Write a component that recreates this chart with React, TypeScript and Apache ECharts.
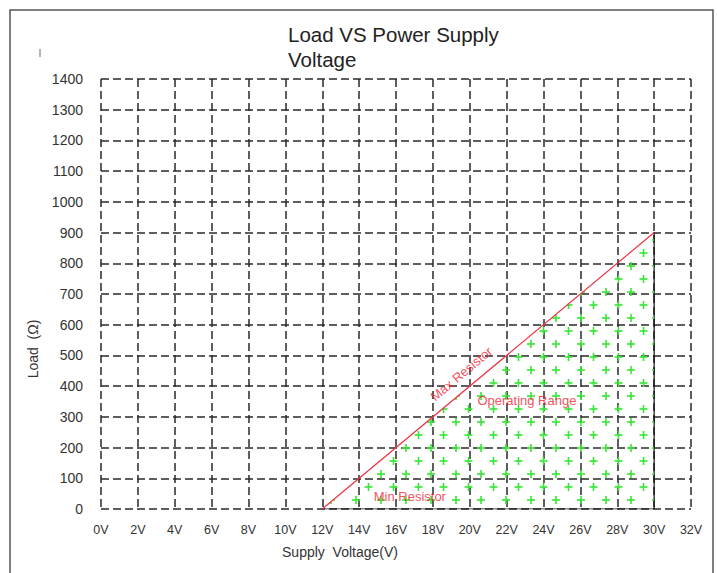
import React, { useEffect, useRef } from "react";
import * as echarts from "echarts";

// Axes
const voltageMin = 0;
const voltageMax = 32;
const voltageStep = 2;
const loadMin = 0;
const loadMax = 1400;
const loadStep = 100;

// Max resistor line (upper edge of operating range)
const maxLineVoltage = [12, 30];
const maxLineLoad = [0, 900];

// Right and bottom edges of the operating range
const edgeVoltage = [30, 30, 12];
const edgeLoad = [900, 0, 0];

// Annotations
const noteTexts = ["Max Resistor", "Operating Range", "Min Resistor"];
const noteVoltage = [19.55, 23.1, 16.75];
const noteLoad = [440, 352, 42];
const noteRotate = [40, 0, 0];

const titleLines = ["Load VS Power Supply", "Voltage"];
const xName = "Supply  Voltage(V)";
const yName = "Load  (Ω)";

function makePlusPattern(): HTMLCanvasElement {
  const c = document.createElement("canvas");
  c.width = 25;
  c.height = 26;
  const g = c.getContext("2d")!;
  g.fillStyle = "#36e636";
  const plus = (cx: number, cy: number) => {
    g.fillRect(cx - 4, cy - 0.8, 8, 1.6);
    g.fillRect(cx - 0.8, cy - 4, 1.6, 8);
  };
  plus(6, 6);
  plus(18.5, 19);
  return c;
}

export default function App() {
  const ref = useRef<HTMLDivElement>(null);
  useEffect(() => {
    if (!ref.current) return;
    const chart = echarts.init(ref.current, undefined, { renderer: "svg" });
    const font = "'Liberation Sans', Arial, sans-serif";
    const gridLine = { show: true, lineStyle: { color: "#2a2a2a", width: 1.5, type: [8, 4] as any } };
    const option: any = {
      animation: false,
      backgroundColor: "#ffffff",
      title: {
        text: titleLines.join("\n"),
        left: 283,
        top: 17,
        textStyle: { fontFamily: font, fontSize: 20.5, fontWeight: "normal", color: "#222", lineHeight: 25 },
      },
      grid: { left: 101, right: 26, top: 79, bottom: 64, containLabel: false },
      xAxis: {
        type: "value",
        min: voltageMin,
        max: voltageMax,
        interval: voltageStep,
        axisLine: { show: false },
        axisTick: { show: false },
        axisLabel: {
          formatter: (v: number) => `${v}V`,
          margin: 14,
          color: "#333",
          fontFamily: font,
          fontSize: 12.5,
        },
        splitLine: gridLine,
      },
      yAxis: {
        type: "value",
        min: loadMin,
        max: loadMax,
        interval: loadStep,
        axisLine: { show: false },
        axisTick: { show: false },
        axisLabel: {
          formatter: (v: number) => String(v),
          margin: 18,
          color: "#333",
          fontFamily: font,
          fontSize: 14,
        },
        splitLine: gridLine,
      },
      graphic: [
        {
          type: "rect",
          shape: { x: 10, y: 10, width: 703, height: 600 },
          style: { fill: "none", stroke: "#555", lineWidth: 1.5 },
          silent: true,
        },
        {
          type: "line",
          shape: { x1: 40, y1: 49, x2: 40, y2: 57 },
          style: { stroke: "#666", lineWidth: 1 },
          silent: true,
        },
        {
          type: "text",
          x: 33,
          y: 349,
          rotation: Math.PI / 2,
          style: {
            text: yName,
            font: `14px ${font}`,
            fill: "#333",
            align: "center",
            verticalAlign: "middle",
          },
          silent: true,
        },
        {
          type: "text",
          x: 340,
          y: 552,
          style: {
            text: xName,
            font: `14px ${font}`,
            fill: "#333",
            align: "center",
            verticalAlign: "middle",
          },
          silent: true,
        },
      ],
      series: [
        {
          type: "line",
          name: "Max Resistor",
          data: maxLineVoltage.map((v, i) => [v, maxLineLoad[i]]),
          symbol: "none",
          lineStyle: { color: "#ee3344", width: 1.2 },
          areaStyle: { color: { image: makePlusPattern(), repeat: "repeat" }, opacity: 1 },
          z: 3,
          silent: true,
        },
        {
          type: "line",
          name: "Edges",
          data: edgeVoltage.map((v, i) => [v, edgeLoad[i]]),
          symbol: "none",
          lineStyle: { color: "#111", width: 1.2 },
          z: 2,
          silent: true,
        },
        {
          type: "scatter",
          name: "Notes",
          data: noteTexts.map((t, i) => ({
            value: [noteVoltage[i], noteLoad[i]],
            label: { formatter: t, rotate: noteRotate[i] },
          })),
          symbolSize: 0.1,
          itemStyle: { color: "rgba(0,0,0,0)" },
          label: {
            show: true,
            position: "inside",
            color: "#f02233",
            fontFamily: font,
            fontSize: 13,
            align: "center",
            verticalAlign: "middle",
          },
          z: 5,
          silent: true,
        },
      ],
    };
    chart.setOption(option);
    return () => chart.dispose();
  }, []);
  return <div ref={ref} style={{ width: 717, height: 573, position: "absolute", left: 0, top: 0 }} />;
}
